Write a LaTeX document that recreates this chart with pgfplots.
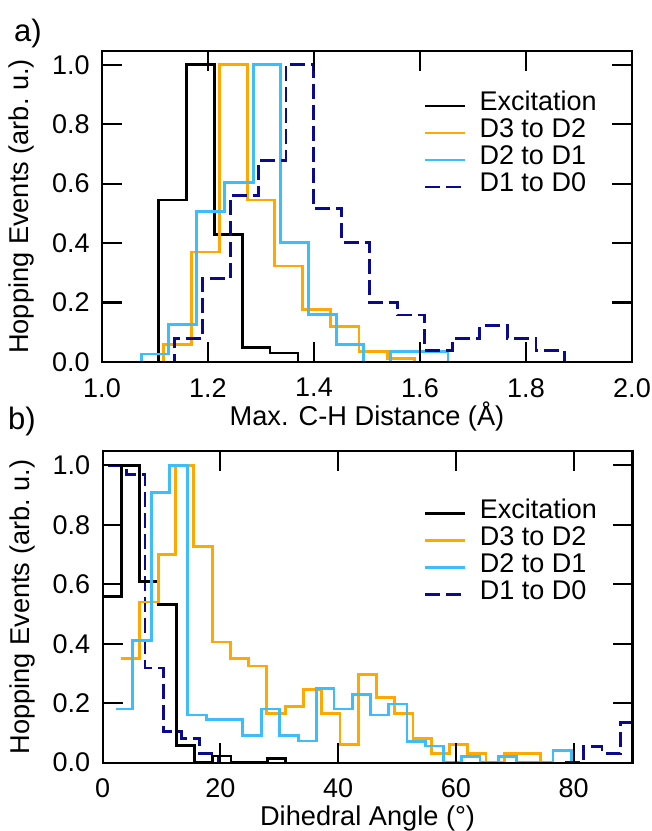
\documentclass[border=0pt]{standalone}
\usepackage{fontspec}
\setmainfont{Liberation Sans}
\usepackage{pgfplots}
\pgfplotsset{compat=1.18}
\definecolor{cOrange}{RGB}{255,168,0}
\definecolor{cLBlue}{RGB}{60,190,250}
\definecolor{cNavy}{RGB}{10,10,140}
\pgfplotsset{
  hop/.style={
    scale only axis, width=265pt, height=155.6pt,
    ymin=0, ymax=1.047,
    ytick={0,0.2,0.4,0.6,0.8,1.0},
    axis on top,
    tick align=inside, tick pos=both,
    major tick length=10pt,
    axis line style={line width=1.1pt},
    tick style={line width=1.1pt, black},
    /pgf/number format/assume math mode=true,
    yticklabel style={/pgf/number format/fixed, /pgf/number format/fixed zerofill, /pgf/number format/precision=1, xshift=-1.5pt},
    tick label style={font=\fontsize{13.5}{15}\selectfont},
    label style={font=\fontsize{13.6}{15}\selectfont},
    xticklabel style={yshift=-3.5pt},
    ylabel={Hopping Events (arb.\ u.)},
    ylabel style={at={(axis description cs:-0.152,0.5)}, anchor=center},
    legend style={draw=none, fill=none, font=\fontsize{13.5}{15}\selectfont, inner sep=0pt, outer sep=0pt,
      anchor=north west, row sep=0pt, column sep=6.5pt,
      nodes={inner sep=0pt, text height=9.2pt, text depth=4.3pt}},
    legend cell align=left,
    legend image code/.code={\draw[#1] (0pt,0pt) -- (20pt,0pt);},
    every axis plot/.append style={const plot},
  },
  hl/.style={line width=1.4pt},
  navydash/.style={cNavy, hl, dash pattern=on 7.5pt off 3pt},
}
\begin{document}
\fontsize{13.5}{15}\selectfont
\begin{tikzpicture}
\path[use as bounding box] (0,0) rectangle (326pt,415.5pt);
\begin{axis}[hop, at={(51pt,234.5pt)}, anchor=south west,
  xmin=1.0, xmax=2.0, xtick={1.0,1.2,1.4,1.6,1.8,2.0},
  xticklabel style={/pgf/number format/fixed, /pgf/number format/fixed zerofill, /pgf/number format/precision=1},
  xlabel={Max. C-H Distance (Å)},
  xlabel style={at={(axis description cs:0.5,-0.176)}, anchor=center},
  legend style={at={(0.607,0.866)}},
]
\addplot[black, hl] coordinates {(1.054,0) (1.107,0.545) (1.160,1.0) (1.212,0.43) (1.265,0.05) (1.317,0.03) (1.370,0)};
\addlegendentry{Excitation}
\addplot[cOrange, hl] coordinates {(1.063,0) (1.116,0.06) (1.169,0.37) (1.221,1.0) (1.274,0.545) (1.326,0.323) (1.379,0.177) (1.431,0.119) (1.485,0.035) (1.538,0.012) (1.590,0)};
\addlegendentry{D3 to D2}
\addplot[cLBlue, hl] coordinates {(1.023,0) (1.075,0.027) (1.126,0.127) (1.179,0.506) (1.231,0.605) (1.286,1.0) (1.337,0.403) (1.389,0.16) (1.442,0.06) (1.494,0) (1.545,0.035) (1.599,0.035) (1.653,0)};
\addlegendentry{D2 to D1}
\addplot[navydash] coordinates {(1.084,0) (1.137,0.08) (1.190,0.28) (1.242,0.56) (1.295,0.678) (1.347,1.0) (1.399,0.517) (1.452,0.403) (1.504,0.2) (1.557,0.158) (1.609,0.04) (1.662,0.08) (1.713,0.122) (1.765,0.08) (1.819,0.038) (1.872,0)};
\addlegendentry{D1 to D0}
\end{axis}
\begin{axis}[hop, at={(51.3pt,34.2pt)}, anchor=south west,
  xmin=0, xmax=90, xtick={0,20,40,60,80},
  xlabel={Dihedral Angle (°)},
  xlabel style={at={(axis description cs:0.5,-0.178)}, anchor=center},
  legend style={at={(0.6065,0.844)}},
]
\addplot[navydash, forget plot] coordinates {(1.0,1.0) (4.0,0.97) (7.2,0.318) (10.3,0.104) (13.4,0.082) (16.5,0.031) (19.6,0)};
\addplot[black, hl] coordinates {(0,0.56) (3.2,1.0) (6.3,0.608) (9.45,0.533) (12.55,0.057) (15.55,0) (18.6,0.022) (21.8,0) (24.9,0) (28.0,0.015) (31.0,0)};
\addlegendentry{Excitation}
\addplot[cOrange, hl] coordinates {(3.2,0.35) (6.3,0.54) (9.45,0.70) (12.35,1.0) (15.45,0.728) (18.6,0.406) (21.7,0.351) (24.8,0.325) (27.9,0.166) (31.0,0.19) (34.1,0.246) (37.2,0.166) (40.3,0.06) (43.4,0.297) (46.5,0.218) (49.6,0.164) (52.7,0.082) (55.8,0.031) (58.9,0.06) (62.0,0.031) (65.1,0) (68.2,0.031) (71.3,0.031) (74.4,0)};
\addlegendentry{D3 to D2}
\addplot[cLBlue, hl] coordinates {(2.2,0.18) (5.1,0.41) (8.3,0.91) (11.4,1.0) (14.45,0.16) (17.6,0.145) (20.7,0.145) (23.8,0.09) (26.95,0.18) (30.1,0.09) (33.2,0.073) (36.3,0.25) (39.3,0.18) (42.4,0.23) (45.5,0.16) (48.6,0.197) (51.7,0.072) (54.8,0.056) (57.9,0) (61.0,0.02) (64.1,0) (67.2,0.02) (70.3,0) (73.4,0) (76.5,0.04) (79.6,0)};
\addlegendentry{D2 to D1}
\addlegendimage{navydash}
\addlegendentry{D1 to D0}
\addplot[navydash, forget plot] coordinates {(78.6,0) (81.7,0.054) (84.8,0.031) (87.9,0.134) (91.0,0.134)};
\end{axis}
\node[font=\fontsize{15.5}{17}\selectfont] at (14pt,399pt) {a)};
\node[font=\fontsize{15.5}{17}\selectfont] at (11pt,205pt) {b)};
\end{tikzpicture}
\end{document}
